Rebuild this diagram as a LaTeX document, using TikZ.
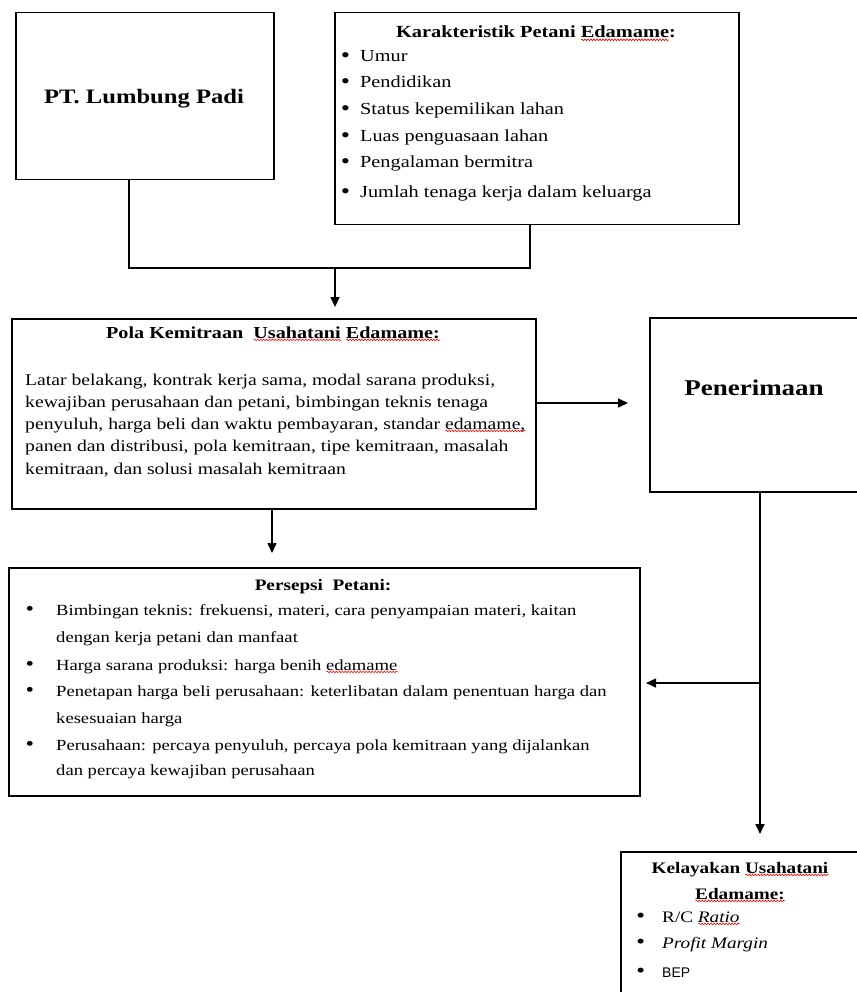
\documentclass[tikz,border=0pt]{standalone}
\usepackage{fontspec}
\setmainfont[FakeStretch=1.2]{Liberation Serif}
\setsansfont{Liberation Sans}
\usetikzlibrary{arrows.meta,decorations.pathmorphing}
\newsavebox\sqbox
\newcommand\sqg[1]{\sbox\sqbox{#1}\rlap{\raisebox{-3pt}{\tikz[x=1pt,y=1pt]{\draw[red,line width=0.6pt,decorate,decoration={snake,amplitude=0.8pt,segment length=3pt}] (0,0) -- (\the\wd\sqbox,0);}}}\usebox\sqbox}
\newcommand\bul[1]{\llap{\raisebox{-0.3pt}{\scalebox{1.3}{\textbullet}}\hspace{#1}}}
\begin{document}
\begin{tikzpicture}[x=1pt,y=-1pt,
  box/.style={draw,line width=1.5pt,inner sep=0pt,anchor=north west},
  arr/.style={line width=1.5pt,-{Triangle[length=10pt,width=9pt]}},
  conn/.style={line width=1.5pt},
  ln/.style={anchor=base west,inner sep=0pt,font=\fontsize{16}{19}\selectfont},
  ttl/.style={anchor=base,inner sep=0pt,font=\bfseries\fontsize{16}{19}\selectfont}]
\useasboundingbox (0,0) rectangle (856,992);
\fill[white] (0,0) rectangle (856,992);

% boxes
\node[box,minimum width=258pt,minimum height=167pt] (pt) at (15,12) {};
\node[box,minimum width=404pt,minimum height=212pt] (kar) at (334,12) {};
\node[box,minimum width=524pt,minimum height=190pt] (pola) at (11,318) {};
\node[box,minimum width=213pt,minimum height=174pt] (pen) at (649,317) {};
\node[box,minimum width=631pt,minimum height=228pt] (pers) at (8,567) {};
\node[box,minimum width=242pt,minimum height=160pt] (kel) at (620,851) {};

% PT
\node[ttl,font=\bfseries\fontsize{20.5}{24}\selectfont] (ptt) at (144,104) {PT. Lumbung Padi};

% Karakteristik
\node[ttl,font=\bfseries\fontsize{17}{20}\selectfont] (kart) at (536,38) {Karakteristik Petani \sqg{Edamame}:};
\foreach \s/\y [count=\i] in {Umur/62, Pendidikan/88, {Status kepemilikan lahan}/115,
  {Luas penguasaan lahan}/142, {Pengalaman bermitra}/168, {Jumlah tenaga kerja dalam keluarga}/198}
  \node[ln,font=\fontsize{16.9}{20}\selectfont] (k\i) at (360,\y) {\bul{10pt}\s};

% Pola
\node[ttl,font=\bfseries\fontsize{16.8}{20}\selectfont] (polat) at (273,338) {Pola Kemitraan\ \ \sqg{Usahatani} \sqg{Edamame:}};
\foreach \s/\y [count=\i] in {
  {Latar belakang, kontrak kerja sama, modal sarana produksi,}/385,
  {kewajiban perusahaan dan petani, bimbingan teknis tenaga}/407,
  {penyuluh, harga beli dan waktu pembayaran, standar \sqg{edamame,}}/429,
  {panen dan distribusi, pola kemitraan, tipe kemitraan, masalah}/451,
  {kemitraan, dan solusi masalah kemitraan}/474}
  \node[ln,font=\fontsize{16.4}{19}\selectfont] (p\i) at (25,\y) {\s};

% Penerimaan
\node[ttl,font=\bfseries\fontsize{22.5}{26}\selectfont] (pent) at (754,395) {Penerimaan};

% Persepsi
\node[ttl] (perst) at (323,590) {Persepsi\ \ Petani:};
\foreach \s/\y [count=\i] in {
  {\bul{22pt}Bimbingan teknis: frekuensi, materi, cara penyampaian materi, kaitan}/615,
  {dengan kerja petani dan manfaat}/642,
  {\bul{22pt}Harga sarana produksi: harga benih \sqg{edamame}}/670,
  {\bul{22pt}Penetapan harga beli perusahaan: keterlibatan dalam penentuan harga dan}/696,
  {kesesuaian harga}/723,
  {\bul{22pt}Perusahaan: percaya penyuluh, percaya pola kemitraan yang dijalankan}/750,
  {dan percaya kewajiban perusahaan}/775}
  \node[ln,font=\fontsize{15.5}{19}\selectfont] (s\i) at (56,\y) {\s};

% Kelayakan
\node[ttl] (kelt1) at (740,873) {Kelayakan \sqg{Usahatani}};
\node[ttl] (kelt2) at (740,899) {\sqg{Edamame:}};
\node[ln] (l1) at (662,922) {\bul{17pt}R/C \textit{\sqg{Ratio}}};
\node[ln] (l2) at (662,948) {\bul{17pt}\textit{Profit Margin}};
\node[ln] (l3) at (662,977) {\bul{17pt}{\sffamily\fontsize{14}{17}\selectfont BEP}};

% connectors
\coordinate (jl) at (129,268);
\coordinate (jr) at (530,268);
\coordinate (jm) at (335,268);
\coordinate (t1) at (335,307);
\coordinate (t2) at (628,403);
\coordinate (t3) at (272,553);
\coordinate (t4) at (760,834);
\coordinate (t5) at (646,683);
\draw[conn] (pt.south -| jl) -- (jl) -- (jr) -- (kar.south -| jr);
\draw[arr] (jm) -- (t1);
\draw[arr] (pola.east |- t2) -- (t2);
\draw[arr] (pola.south -| t3) -- (t3);
\draw[arr] (pen.south -| t4) -- (t4);
\draw[arr] (t4 |- t5) -- (t5);
\end{tikzpicture}
\end{document}
